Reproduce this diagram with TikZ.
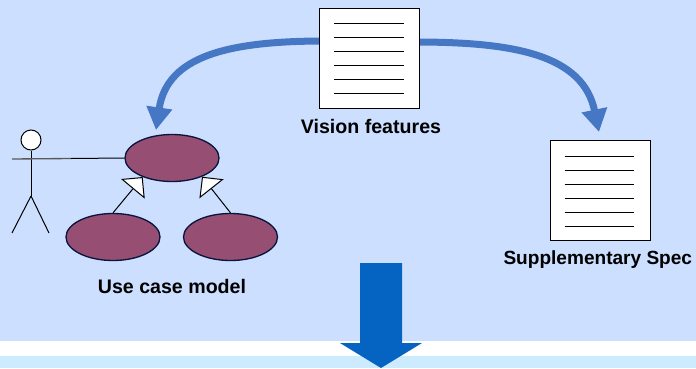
\documentclass[tikz,border=0pt]{standalone}
\usepackage{fontspec}
\setmainfont{Liberation Sans}
\usetikzlibrary{arrows.meta,shapes.geometric}
\definecolor{panelblue}{RGB}{204,223,255}
\definecolor{lowerblue}{RGB}{204,235,255}
\definecolor{flowblue}{RGB}{70,119,196}
\definecolor{downblue}{RGB}{5,99,193}
\definecolor{caseplum}{RGB}{150,79,115}
\definecolor{caseline}{RGB}{10,20,60}
\tikzset{every picture/.style={line width=0.75pt}}
\tikzset{
  usecase/.style={draw=caseline,fill=caseplum,ellipse,line width=1pt,minimum width=70.5pt,minimum height=35.25pt,inner sep=0pt},
  docsheet/.style={draw,fill=white,minimum width=75pt,minimum height=75pt,inner sep=0pt},
  caption/.style={inner sep=0.75pt,text=black,font=\fontsize{14.7}{17}\bfseries},
  flowarrow/.style={draw=flowblue,line width=5.25pt,-{Triangle[length=17pt,width=18.5pt,fill=flowblue]}},
  inherit/.style={line width=0.75pt,-{Triangle[open,fill=white,length=11.5pt,width=23pt,line width=0.75pt]}},
}

\begin{document}
\begin{tikzpicture}[x=0.75pt,y=0.75pt,yscale=-1,xscale=1]
\useasboundingbox (0,0) rectangle (696,368);

% panels
\fill[panelblue] (0,0) rectangle (696,341);
\fill[white] (0,341) rectangle (696,356);
\fill[lowerblue] (0,356) rectangle (696,368);

% curved arrows, under the sheets
\coordinate (leftstart) at (325,41);
\coordinate (lefttip) at (156,130);
\coordinate (rightstart) at (415,42);
\coordinate (righttip) at (599,132);
\draw[flowarrow] (leftstart) .. controls (228,41) and (167,56) .. (lefttip);
\draw[flowarrow] (rightstart) .. controls (515,42) and (583,55) .. (righttip);

% documents
\node[docsheet] (visiondoc) at (369.5,58) {};
\node[docsheet] (suppdoc) at (600,190.5) {};
\foreach \ypos in {-34.5,-20.5,-6.5,7.5,21.5,35.5} {
  \draw ([shift={(-35.5,\ypos)}]visiondoc.center) -- ([shift={(34,\ypos)}]visiondoc.center);
  \draw ([shift={(-35.5,\ypos)}]suppdoc.center) -- ([shift={(34,\ypos)}]suppdoc.center);
}
\node[caption] (visionlabel) at (371,126) {Vision features};
\node[caption,anchor=west,font=\fontsize{14.3}{17}\bfseries] (supplabel) at (502,260) {Supplementary Spec};

% use cases
\node[usecase] (maincase) at (172,158) {};
\node[usecase] (leftcase) at (113,237) {};
\node[usecase] (rightcase) at (230.5,237) {};
\draw[inherit] (leftcase.north) -- (maincase.213);
\draw[inherit] (rightcase.north) -- (maincase.-32);
\node[caption] (caselabel) at (172,286) {Use case model};

% actor
\node[draw,fill=white,circle,minimum size=15pt,inner sep=0pt] (actorhead) at (31,140) {};
\coordinate (hip) at (31,196);
\coordinate (armleft) at (12,159);
\coordinate (armmid) at (71,158.5);
\coordinate (footleft) at (12,233);
\coordinate (footright) at (49,233);
\draw (actorhead.south) -- (hip);
\draw (hip) -- (footleft);
\draw (hip) -- (footright);
\draw[line width=1pt,black!65] (armleft) -- (armmid);
\draw (armmid) -- (maincase.west);

% big arrow
\fill[downblue] (360,263) -- (402,263) -- (402,343) -- (422,343) -- (381,368) -- (340,343) -- (360,343) -- cycle;

\end{tikzpicture}
\end{document}
